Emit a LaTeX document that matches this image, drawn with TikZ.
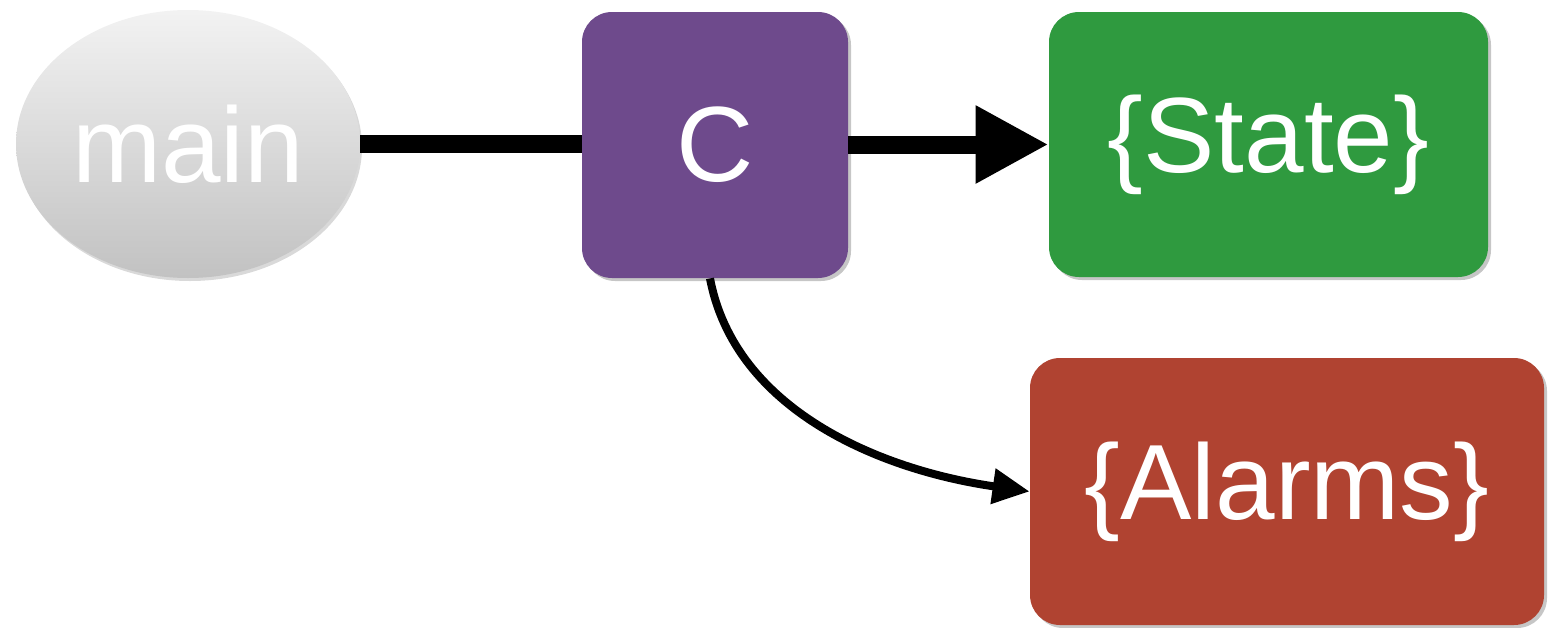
\documentclass[tikz,border=0pt]{standalone}
\usepackage{fontspec}
\setmainfont{Liberation Sans}
\usetikzlibrary{arrows.meta,shapes.geometric,shadows}
\definecolor{cpurple}{HTML}{6E4A8C}
\definecolor{cgreen}{HTML}{2F9A3F}
\definecolor{cred}{HTML}{B04331}
\tikzset{
  lbl/.style={text=white,font=\fontsize{53.5}{60}\selectfont},
  card/.style={lbl,rounded corners=15pt,inner sep=0pt,
    drop shadow={shadow xshift=1.5pt,shadow yshift=-1.5pt,opacity=0.45}},
  thickline/.style={line width=9pt},
  thinline/.style={line width=4pt}
}
\begin{document}
\begin{tikzpicture}[x=0.5pt,y=-0.5pt]
\useasboundingbox (0,0) rectangle (1552,627);
\node[lbl,ellipse,inner sep=0pt,minimum width=172pt,minimum height=134pt,
  top color=black!5,bottom color=black!24,
  drop shadow={shadow xshift=1pt,shadow yshift=-1.5pt,opacity=0.3}]
  (main) at (188,144) {main};
\node[card,fill=cpurple,minimum width=133pt,minimum height=133pt] (C) at (715,145) {C};
\node[card,fill=cgreen,minimum width=219.5pt,minimum height=132.5pt] (S) at (1268.5,144.5) {\{State\}};
\node[card,fill=cred,minimum width=257pt,minimum height=133.5pt] (A) at (1287,491.5) {\{Alarms\}};
\draw[thickline] (main.east) -- (C.west |- main.east);
\draw[thickline,-{Triangle[length=36.5pt 0 0,width=36.5pt 0 0]}] (C.east |- S.west) -- (S.west);
\draw[thinline,-{Triangle[length=18.5pt 0 0,width=17pt 0 0]}]
  ([xshift=-2.5pt]C.south) .. controls (735,410) and (880,470) .. (A.west);
\end{tikzpicture}
\end{document}
